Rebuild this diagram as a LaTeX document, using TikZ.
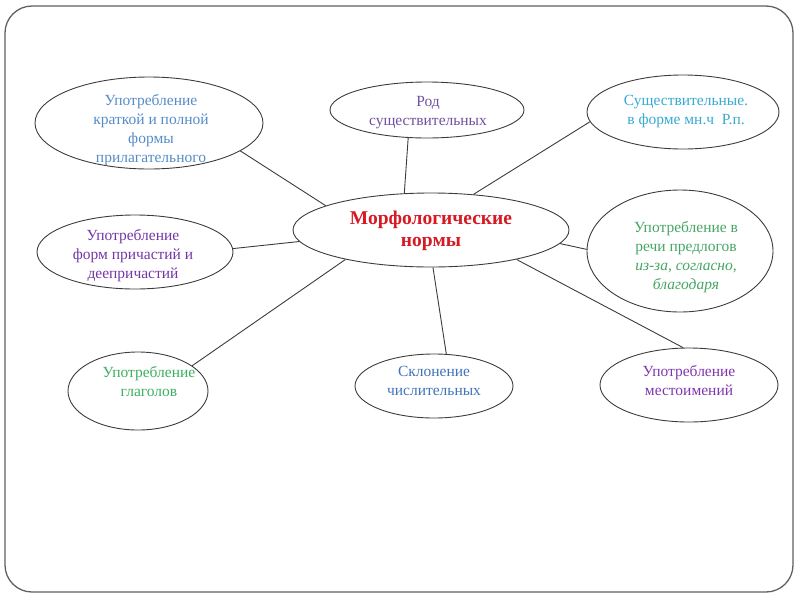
\documentclass[tikz,border=0pt]{standalone}
\usepackage{fontspec}
\setmainfont{Liberation Serif}
\usetikzlibrary{shapes.geometric}
\definecolor{cA}{RGB}{85,140,200}
\definecolor{cB}{RGB}{112,80,160}
\definecolor{cC}{RGB}{55,170,210}
\definecolor{cD}{RGB}{215,25,35}
\definecolor{cE}{RGB}{115,55,165}
\definecolor{cF}{RGB}{70,165,100}
\definecolor{cG}{RGB}{60,175,95}
\definecolor{cH}{RGB}{65,115,185}
\definecolor{cI}{RGB}{125,55,175}
\definecolor{edge}{RGB}{60,60,60}
\tikzset{
  oval/.style={ellipse, draw=edge, line width=0.9pt, inner sep=0pt},
  lbl/.style={align=center, inner sep=0pt, font=\fontsize{15.5}{19}\selectfont},
  big/.style={align=center, inner sep=0pt, font=\fontsize{19.5}{22}\selectfont\bfseries},
  link/.style={draw=edge, line width=0.9pt}
}
\begin{document}
\begin{tikzpicture}[x=1pt,y=-1pt]
\useasboundingbox (0,0) rectangle (800,600);
\draw[gray!75!black, line width=1.3pt, rounded corners=27pt] (5,6) rectangle (793,592);

\node[oval, minimum width=228pt, minimum height=92pt] (A) at (149,123) {};
\node[oval, minimum width=194pt, minimum height=56pt] (B) at (427,110) {};
\node[oval, minimum width=192pt, minimum height=74pt] (C) at (683,112) {};
\node[oval, minimum width=276pt, minimum height=74pt] (D) at (431,230) {};
\node[oval, minimum width=196pt, minimum height=74pt] (E) at (135,252) {};
\node[oval, minimum width=186pt, minimum height=122pt] (F) at (680,251) {};
\node[oval, minimum width=140pt, minimum height=78pt] (G) at (138,391) {};
\node[oval, minimum width=158pt, minimum height=64pt] (H) at (434,386) {};
\node[oval, minimum width=178pt, minimum height=74pt] (I) at (689,385) {};

\node[lbl, text=cA] (tA) at (151,130) {Употребление\\краткой и полной\\формы\\прилагательного};
\node[lbl, text=cB] (tB) at (428,113) {Род\\существительных};
\node[lbl, text=cC] (tC) at (686,112) {Существительные.\\в форме мн.ч\enspace Р.п.};
\node[big, text=cD] (tD) at (431,231) {Морфологические\\нормы};
\node[lbl, text=cE] (tE) at (133,256) {Употребление\\форм причастий и\\деепричастий};
\node[lbl, text=cF] (tF) at (686,257) {Употребление в\\речи предлогов\\\textit{из-за, согласно,}\\\textit{благодаря}};
\node[lbl, text=cG] (tG) at (149,382) {Употребление\\глаголов};
\node[lbl, text=cH] (tH) at (434,381) {Склонение\\числительных};
\node[lbl, text=cI] (tI) at (689,381) {Употребление\\местоимений};

\draw[link] (A.-17) -- (D.167);
\draw[link] (B.-124) -- (D.126);
\draw[link] (C.-174) -- (D.40);
\draw[link] (E.2) -- (D.-175);
\draw[link] (F.179) -- (D.-6);
\draw[link] (G.25) -- (D.-161);
\draw[link] (H.69) -- (D.-87);
\draw[link] (I.99) -- (D.-19);
\end{tikzpicture}
\end{document}
